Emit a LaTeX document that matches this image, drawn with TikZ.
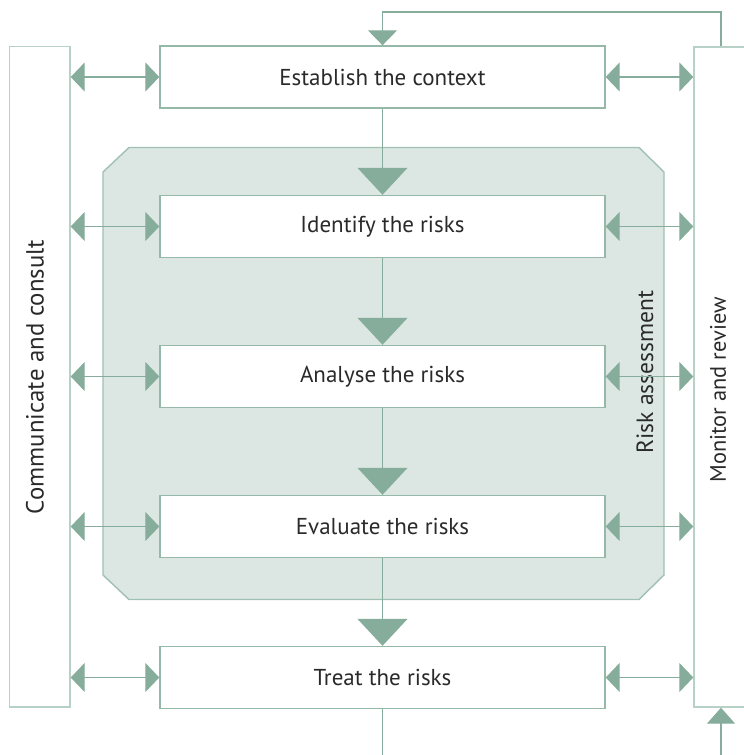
\documentclass[tikz,border=0pt]{standalone}
\usepackage{fontspec}
\setmainfont{PT Sans}
\usetikzlibrary{arrows.meta}
\definecolor{boxline}{HTML}{95B8A9}
\definecolor{sideline}{HTML}{B7D1C6}
\definecolor{arrowc}{HTML}{86AD9C}
\definecolor{shadefill}{HTML}{DCE7E3}
\definecolor{shadeline}{HTML}{A0C0B3}
\definecolor{txt}{HTML}{2A2A2A}
\tikzset{
  stepbox/.style={draw=boxline, line width=1.4pt, fill=white, minimum width=445pt, minimum height=62pt, inner sep=0pt, font=\fontsize{23}{26}\selectfont, text=txt},
  sidebox/.style={draw=sideline, line width=1.4pt, inner sep=0pt},
  vlabel/.style={rotate=90, font=\fontsize{23.5}{27}\selectfont, text=txt, inner sep=0pt},
  dbl/.style={draw=arrowc, line width=1.3pt, {Triangle[width=29pt,length=14pt]}-{Triangle[width=29pt,length=14pt]}},
  flow/.style={draw=arrowc, line width=1.3pt, -{Triangle[width=50pt,length=27pt]}},
  small/.style={draw=arrowc, line width=1.3pt, -{Triangle[width=29pt,length=15pt]}},
}
\begin{document}
\begin{tikzpicture}[x=1pt,y=-1pt]
\useasboundingbox (0,0) rectangle (744,755);
% risk assessment region
\draw[fill=shadefill, draw=shadeline, line width=1.4pt]
  (129,147.5) -- (639,147.5) -- (664,172) -- (664,575) -- (639,599.5) -- (129,599.5) -- (103,575) -- (103,172) -- cycle;
\node[vlabel] (ratext) at (645,372) {Risk assessment};
% side boxes
\node[sidebox, minimum width=60.5pt, minimum height=660.5pt] (cc) at (39.75,376.75) {};
\node[vlabel, font=\fontsize{24.8}{28}\selectfont] (cctext) at (35,377) {Communicate and consult};
\node[sidebox, minimum width=70pt, minimum height=660pt] (mr) at (729,377) {};
\node[vlabel, font=\fontsize{22.4}{26}\selectfont] (mrtext) at (718,390) {Monitor and review};
% steps
\node[stepbox] (est) at (382.5,77) {Establish the context};
\node[stepbox] (idr) at (382.5,226.5) {Identify the risks};
\node[stepbox] (ana) at (382.5,376.5) {Analyse the risks};
\node[stepbox] (eva) at (382.5,526.5) {Evaluate the risks};
\node[stepbox] (trt) at (382.5,677.5) {Treat the risks};
% flow
\draw[flow] (est) -- (idr);
\draw[flow] (idr) -- (ana);
\draw[flow] (ana) -- (eva);
\draw[flow] (eva) -- (trt);
% double arrows
\foreach \n in {est,idr,ana,eva,trt}{
  \draw[dbl] (cc.east |- \n.west) -- (\n.west);
  \draw[dbl] (\n.east) -- (mr.west |- \n.east);
}
% feedback loop
\coordinate (fbtop) at (721,12);
\draw[small] (mr.north -| fbtop) -- (fbtop) -| (est.north);
% bottom
\coordinate (botl) at (382.5,755);
\draw[draw=arrowc, line width=1.3pt] (trt.south) -- (botl);
\coordinate (botr) at (721,755);
\draw[draw=arrowc, line width=1.3pt, -{Triangle[width=28pt,length=16pt]}] (botr) -- (mr.south -| botr);
\end{tikzpicture}
\end{document}
